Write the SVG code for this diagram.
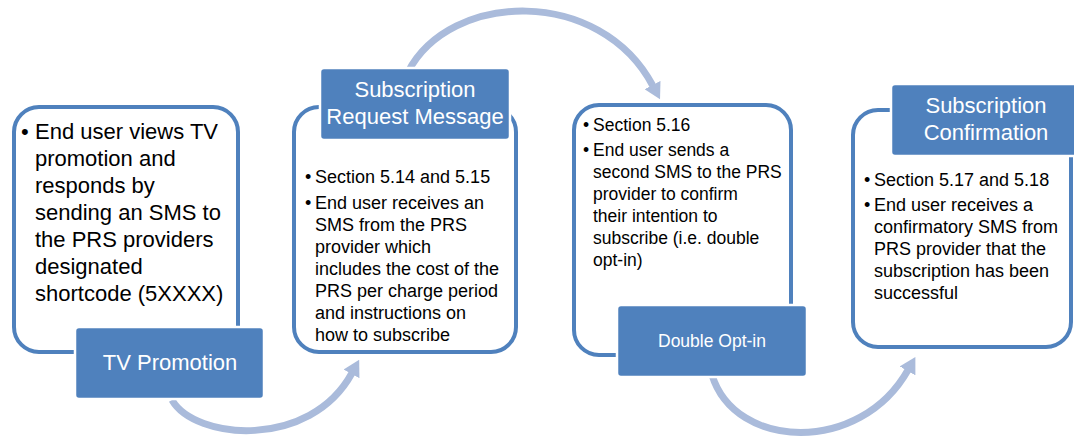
<svg xmlns="http://www.w3.org/2000/svg" width="1074" height="440" viewBox="0 0 1074 440">
<style>
.arc{fill:none;stroke:#AABBDB;stroke-width:7}
.card{fill:#fff;stroke:#4F81BD;stroke-width:4}
.tab{fill:#4F81BD;stroke:#fff;stroke-width:2.5}
text{font-family:"Liberation Sans",Arial,sans-serif;fill:#000}
.big{font-size:22px}
.sm{font-size:18px}
.w{fill:#fff;text-anchor:middle}
</style>
<defs>
<marker id="ah" viewBox="0 0 16 18" refX="1" refY="9" markerWidth="16" markerHeight="18" markerUnits="userSpaceOnUse" orient="auto">
<path d="M0,0 L16,9 L0,18 z" fill="#AABBDB"/>
</marker>
</defs>
<rect width="1074" height="440" fill="#fff"/>
<g id="connectors">
<path class="arc" d="M172,400 C195,440 310,450 352,373" marker-end="url(#ah)"/>
<path class="arc" d="M408,72 C450,-9 600,-14 653,86" marker-end="url(#ah)"/>
<path class="arc" d="M712,375 C735,450 860,455 908,370" marker-end="url(#ah)"/>
</g>
<g id="tv-promotion">
<rect class="card" x="14" y="107" width="224" height="245" rx="25"/>
<text class="big"><tspan x="21" y="139">•</tspan><tspan x="35" y="139">End user views TV</tspan><tspan x="35" y="166">promotion and</tspan><tspan x="35" y="193">responds by</tspan><tspan x="35" y="220">sending an SMS to</tspan><tspan x="35" y="247">the PRS providers</tspan><tspan x="35" y="274">designated</tspan><tspan x="35" y="301">shortcode (5XXXX)</tspan></text>
<rect class="tab" x="75" y="327" width="189" height="72" rx="4"/>
<text class="big w" x="170" y="370">TV Promotion</text>
</g>
<g id="subscription-request">
<rect class="card" x="294" y="107" width="222" height="245" rx="25"/>
<rect class="tab" x="320" y="68" width="190" height="72" rx="4"/>
<text class="big w"><tspan x="415" y="97">Subscription</tspan><tspan x="415" y="124">Request Message</tspan></text>
<text class="sm"><tspan x="305" y="183">•</tspan><tspan x="315" y="183">Section 5.14 and 5.15</tspan><tspan x="305" y="209">•</tspan><tspan x="315" y="209">End user receives an</tspan><tspan x="315" y="231">SMS from the PRS</tspan><tspan x="315" y="253">provider which</tspan><tspan x="315" y="275">includes the cost of the</tspan><tspan x="315" y="297">PRS per charge period</tspan><tspan x="315" y="319">and instructions on</tspan><tspan x="315" y="341">how to subscribe</tspan></text>
</g>
<g id="double-opt-in">
<rect class="card" x="574" y="105" width="217" height="250" rx="25"/>
<text class="sm" style="font-size:17.5px"><tspan x="583" y="131">•</tspan><tspan x="593" y="131">Section 5.16</tspan><tspan x="583" y="156">•</tspan><tspan x="593" y="156">End user sends a</tspan><tspan x="593" y="178">second SMS to the PRS</tspan><tspan x="593" y="200">provider to confirm</tspan><tspan x="593" y="222">their intention to</tspan><tspan x="593" y="244">subscribe (i.e. double</tspan><tspan x="593" y="266">opt-in)</tspan></text>
<rect class="tab" x="617" y="305" width="190" height="72" rx="4"/>
<text class="sm w" style="font-size:17.5px" x="712" y="347">Double Opt-in</text>
</g>
<g id="subscription-confirmation">
<rect class="card" x="853" y="110" width="218" height="237" rx="25"/>
<rect class="tab" x="891" y="84" width="190" height="72" rx="4"/>
<text class="big w"><tspan x="986" y="113">Subscription</tspan><tspan x="986" y="140">Confirmation</tspan></text>
<text class="sm"><tspan x="864" y="186">•</tspan><tspan x="874" y="186">Section 5.17 and 5.18</tspan><tspan x="864" y="211">•</tspan><tspan x="874" y="211">End user receives a</tspan><tspan x="874" y="233">confirmatory SMS from</tspan><tspan x="874" y="255">PRS provider that the</tspan><tspan x="874" y="277">subscription has been</tspan><tspan x="874" y="299">successful</tspan></text>
</g>
</svg>
